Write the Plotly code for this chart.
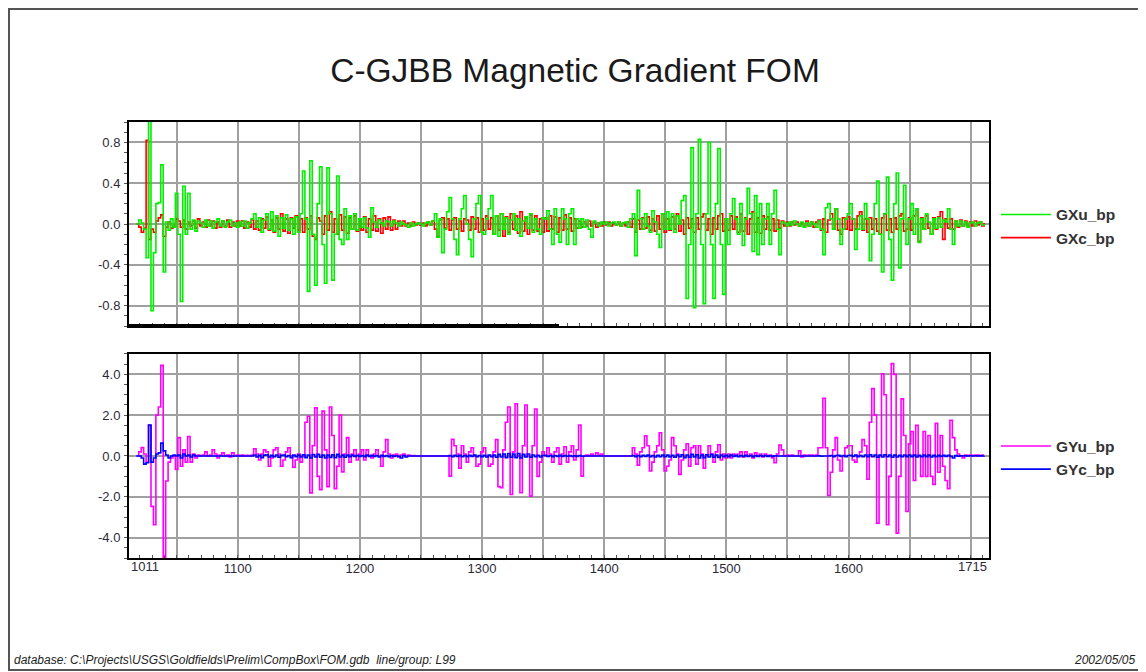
import plotly.graph_objects as go

# fiducials 1017..1711 step 2
fid = list(range(1017, 1712, 2))

# ---------------- top panel ----------------
gxu_bp = [
    0.00, 0.04, 0.01, -0.05, -0.33, 1.28, -0.85, -0.28, 0.20, 0.21, 0.58, -0.47, 0.02, -0.06, 0.05, -0.03, 0.30,
    -0.10, -0.76, 0.37, -0.10, 0.30, -0.05, 0.04, -0.07, 0.03, 0.01, -0.03, 0.04, -0.02, 0.03, -0.04, 0.02, 0.05, -0.02, 0.03, -0.03, 0.02, 0.04, -0.02, 0.01, -0.03,
    0.02, -0.02, 0.03, -0.04, 0.01, 0.05, 0.10, -0.03, 0.06, -0.08, 0.04, 0.10, -0.05, 0.12, -0.07, 0.08, -0.12, 0.06, -0.04, 0.09, -0.06, 0.05, -0.10, 0.07, -0.08,
    0.10, 0.52, 0.05, -0.66, 0.62, -0.10, -0.60, 0.20, 0.56, -0.20, -0.58, 0.55, 0.10, -0.55, -0.10, 0.47, -0.15, -0.20, 0.15, -0.15, 0.08, -0.05, 0.10, -0.06, 0.05,
    -0.03, 0.06, -0.04, -0.13, 0.16, 0.02, -0.03, 0.04, 0.01, -0.02, 0.03, 0.02, -0.02, 0.03, 0.01, -0.02, 0.02, 0.00, -0.01, -0.03, 0.01, -0.02, 0.00, 0.01, 0.00,
    -0.02, 0.01, 0.02, -0.01, 0.03, 0.10, -0.13, 0.05, -0.28, -0.05, 0.12, 0.26, 0.05, -0.15, -0.30, 0.05, 0.15, 0.28, 0.00, -0.15, -0.32, 0.05, 0.20, 0.28, -0.08,
    -0.10, 0.05, 0.15, 0.28, -0.10, 0.08, -0.12, 0.10, -0.05, 0.06, -0.10, 0.04, 0.10, -0.06, 0.05, -0.12, 0.03, 0.07, -0.04, 0.10, -0.08, 0.05, -0.05, -0.10, 0.06,
    0.05, 0.13, -0.05, -0.20, 0.15, -0.10, -0.18, 0.15, 0.05, -0.20, 0.10, 0.15, -0.20, 0.05, -0.04, 0.05, -0.03, 0.04, -0.05, -0.13, 0.03, 0.01, -0.02, 0.02, 0.00,
    0.02, -0.02, 0.01, 0.02, -0.01, 0.02, -0.02, 0.01, 0.02, -0.03, 0.05, 0.10, -0.31, 0.33, 0.05, -0.05, 0.10, -0.02, -0.08, 0.13, 0.02, -0.10, -0.23, 0.10, -0.05,
    0.12, -0.05, 0.10, -0.08, 0.08, 0.00, 0.23, 0.28, -0.73, -0.20, 0.75, -0.82, 0.10, 0.83, -0.20, -0.78, 0.10, 0.80, -0.20, -0.73, 0.20, 0.74, -0.20, -0.69, 0.05,
    -0.20, 0.10, 0.25, 0.05, -0.10, 0.20, -0.21, 0.05, 0.35, 0.10, -0.27, 0.28, -0.30, 0.20, -0.20, 0.05, 0.20, -0.20, 0.10, 0.33, -0.05, -0.30, 0.02, 0.01, -0.02,
    0.02, -0.01, 0.03, 0.00, -0.02, 0.02, -0.03, 0.01, -0.02, 0.02, 0.00, -0.03, 0.03, -0.05, -0.30, 0.16, 0.20, 0.05, -0.05, 0.15, 0.05, -0.20, -0.05, 0.05, 0.10,
    0.20, 0.05, -0.25, -0.05, 0.08, -0.05, 0.20, 0.05, -0.36, -0.10, 0.20, 0.42, -0.10, -0.47, 0.10, 0.46, -0.15, -0.55, 0.20, 0.50, -0.43, 0.05, 0.38, -0.20, 0.05,
    0.20, -0.10, 0.15, -0.18, 0.05, -0.05, 0.10, 0.02, -0.10, 0.05, -0.04, 0.06, -0.03, 0.04, 0.02, 0.15, -0.05, -0.20, 0.03, -0.02, 0.03, -0.02, 0.02, -0.03, 0.01,
    0.02, -0.02, 0.01, 0.02, -0.01, 0.00,
]

gxc_bp = [
    0.00, -0.03, -0.08, -0.04, 0.82, -0.15, -0.05, -0.08, 0.03, 0.06, 0.09, -0.12, -0.03, 0.02, -0.04, -0.02, 0.05,
    0.03, -0.03, 0.04, -0.05, 0.02, -0.02, 0.03, -0.04, 0.05, -0.02, 0.02, -0.03, 0.04, -0.02, 0.03, -0.04, 0.02, -0.03, 0.03, -0.02, 0.04, -0.03, 0.02, -0.02, 0.03,
    -0.02, 0.03, -0.04, 0.02, -0.03, 0.04, -0.05, 0.03, -0.06, 0.05, -0.04, 0.07, -0.06, 0.04, -0.08, 0.06, -0.05, 0.10, -0.07, 0.05, -0.09, 0.06, -0.04, 0.08, -0.06,
    0.05, -0.08, 0.06, -0.05, 0.08, -0.12, -0.15, 0.06, 0.03, -0.10, 0.08, -0.06, 0.12, -0.08, 0.05, -0.10, 0.09, -0.06, 0.07, -0.09, 0.06, -0.05, 0.08, -0.07, 0.05,
    -0.06, 0.07, -0.08, 0.05, -0.06, 0.08, -0.07, 0.05, -0.09, 0.06, -0.05, 0.07, -0.06, 0.04, -0.05, 0.03, -0.02, 0.03, -0.02, 0.01, -0.02, 0.02, -0.01, 0.01, -0.01,
    0.01, -0.02, 0.02, -0.01, 0.03, -0.05, -0.12, 0.04, 0.06, -0.04, 0.05, -0.06, 0.04, 0.06, -0.05, 0.03, -0.07, 0.05, 0.04, -0.06, 0.07, -0.05, 0.06, -0.08, 0.05,
    -0.06, 0.08, -0.05, 0.06, -0.10, 0.08, -0.06, 0.10, -0.12, 0.07, -0.08, 0.10, -0.05, 0.08, -0.09, 0.12, -0.07, 0.06, -0.10, 0.09, -0.06, 0.08, -0.07, 0.05, -0.08,
    0.06, -0.07, 0.08, -0.05, 0.07, -0.08, 0.06, -0.06, 0.09, -0.05, 0.06, -0.07, 0.05, -0.04, 0.03, -0.03, 0.02, -0.02, 0.03, -0.02, 0.02, -0.03, 0.01, -0.02, 0.02,
    -0.01, 0.02, -0.02, 0.01, -0.01, 0.02, -0.02, 0.01, -0.02, 0.02, -0.03, 0.05, -0.08, 0.04, -0.05, 0.06, -0.04, 0.07, -0.06, 0.05, -0.07, 0.08, -0.05, 0.10, -0.08,
    0.05, -0.06, 0.07, -0.05, 0.10, -0.07, 0.04, -0.10, 0.06, -0.04, 0.05, -0.08, 0.06, -0.05, 0.07, 0.10, -0.06, 0.05, -0.10, 0.06, -0.05, 0.08, 0.10, -0.07, 0.05,
    -0.06, 0.08, -0.05, 0.07, -0.08, 0.10, -0.07, 0.06, -0.10, 0.05, 0.12, -0.08, 0.06, -0.09, 0.08, -0.05, 0.07, -0.06, 0.05, -0.07, 0.04, -0.04, 0.03, -0.02, 0.02,
    -0.02, 0.02, -0.01, 0.02, -0.02, 0.01, -0.02, 0.03, -0.02, 0.02, -0.03, 0.02, 0.04, -0.06, 0.05, -0.08, 0.04, 0.10, -0.05, 0.15, -0.06, -0.10, 0.06, -0.05, 0.07,
    -0.06, 0.05, -0.05, 0.08, 0.12, -0.06, 0.05, -0.08, 0.06, -0.05, 0.05, -0.07, -0.10, 0.06, 0.10, -0.06, 0.05, -0.08, 0.06, -0.05, 0.08, 0.10, -0.07, -0.05, 0.06,
    -0.06, 0.08, 0.15, -0.17, 0.06, -0.05, 0.08, -0.04, -0.10, 0.06, -0.05, 0.07, 0.12, -0.15, 0.05, -0.04, 0.05, -0.05, 0.03, -0.03, 0.04, -0.02, 0.03, -0.02, 0.02,
    -0.02, 0.03, -0.01, 0.02, -0.02, 0.01,
]

# ---------------- bottom panel ----------------
gyu_bp = [
    0.0, 0.2, 0.41, 0.1, -0.3, 1.5, -2.47, -3.37, 2.0, 2.4, 4.44, -5.5, -1.23, -0.3, -0.1, 0.0, -0.66,
    0.9, -0.5, 0.3, -0.3, 0.95, -0.3, 0.1, -0.1, 0.05, 0.0, 0.05, 0.2, 0.0, 0.05, 0.3, 0.1, -0.1, 0.05, 0.15, 0.0, 0.05, -0.05, 0.15, 0.0, 0.05,
    0.0, 0.05, 0.0, 0.03, 0.0, 0.05, 0.35, 0.1, -0.2, 0.1, 0.3, 0.2, -0.5, -0.1, 0.3, 0.4, 0.1, -0.5, -0.2, 0.2, 0.4, 0.0, -0.55, -0.2, 0.1,
    -0.3, 0.0, 1.65, 1.95, -1.81, 0.5, 2.36, -1.0, -1.65, 2.2, 0.3, -1.5, 2.4, 1.0, -1.6, -0.5, 2.0, -0.78, 0.1, 0.9, -0.3, 0.1, 0.3, -0.2, 0.1,
    0.3, -0.2, 0.3, 0.0, -0.1, 0.1, 0.3, 0.0, -0.5, 0.2, 0.8, 0.1, -0.1, 0.05, 0.1, -0.05, 0.05, 0.1, 0.0, 0.05, 0.0, 0.02, 0.0, 0.0, 0.0,
    0.0, 0.0, 0.0, 0.0, 0.0, 0.0, 0.0, 0.0, 0.0, 0.0, 0.0, -0.99, 0.82, 0.5, 0.1, -0.6, 0.5, 0.1, -0.3, 0.2, 0.4, 0.0, -0.5, -0.4, 0.2,
    0.4, 0.0, -0.5, -0.4, 0.2, 0.8, -1.5, -1.56, 0.3, 1.65, 2.4, -1.89, 0.2, 2.56, 0.0, -1.8, 0.5, 2.5, 0.0, -1.97, 0.5, 2.3, -1.0, -0.3, 0.2,
    0.0, 0.4, 0.1, -0.3, 0.2, 0.4, -0.4, 0.1, 0.45, -0.3, 0.2, 0.5, -0.2, 0.3, 1.52, -0.99, 0.0, 0.05, 0.0, 0.1, 0.0, 0.15, 0.05, 0.1, 0.0,
    0.0, 0.0, 0.0, 0.0, 0.0, 0.0, 0.0, 0.0, 0.0, 0.0, 0.0, 0.4, 0.1, -0.45, 0.2, 0.4, 0.99, 0.5, -0.74, -0.3, 0.2, 0.5, 1.14, 0.3, -0.74,
    -0.5, -0.2, 0.9, 0.5, 0.1, -0.9, -0.2, 0.3, 0.6, -0.5, 0.4, 0.5, -0.4, 0.5, 0.1, -0.6, 0.0, 0.5, 0.1, -0.3, 0.2, 0.55, -0.2, 0.1, -0.1,
    0.1, -0.1, 0.1, 0.0, 0.1, 0.2, -0.05, 0.2, 0.0, 0.1, -0.1, 0.15, 0.0, 0.1, -0.05, 0.1, 0.0, 0.05, -0.1, -0.33, 0.1, 0.53, 0.3, 0.0, 0.05,
    0.0, 0.05, 0.0, 0.0, 0.25, -0.05, 0.05, 0.0, 0.05, 0.05, 0.0, 0.05, 0.4, 0.4, 2.83, 0.4, -1.94, -0.8, 0.3, 0.9, -0.2, -0.74, 0.0, 0.4, 0.5,
    0.5, -0.2, -0.3, 0.0, 0.2, 0.8, 0.5, -1.14, 1.65, 3.3, 2.0, -3.29, 0.0, 4.03, 3.0, -3.37, -1.0, 4.53, 4.0, -3.78, -1.0, 2.8, 1.0, -2.72, 0.6,
    1.2, -1.2, 1.5, 0.0, -1.0, 1.2, -1.0, 1.0, -1.0, -1.4, 1.6, -0.8, 1.0, -0.5, -1.2, -1.6, 1.75, 0.9, 0.3, 0.1, 0.0, -0.1, 0.05, 0.0, 0.05,
    0.0, 0.05, 0.05, 0.0, 0.05, 0.05,
]

gyc_bp = [
    0.0, 0.0, -0.1, -0.4, -0.33, 1.52, -0.3, -0.1, 0.1, 0.15, 0.63, 0.25, 0.05, -0.1, 0.0, 0.05, 0.0,
    0.05, -0.1, 0.1, 0.0, 0.05, -0.05, 0.05, 0.0, 0.0, 0.0, 0.0, 0.0, 0.0, 0.0, 0.0, 0.0, 0.0, 0.0, 0.0, 0.0, 0.0, 0.0, 0.0, 0.0, 0.0,
    0.0, 0.0, 0.0, 0.0, 0.0, 0.0, 0.05, -0.05, 0.03, -0.08, 0.04, 0.06, -0.05, 0.03, -0.04, 0.05, -0.06, 0.03, 0.05, -0.04, 0.02, -0.08, 0.05, -0.03, 0.04,
    -0.05, 0.06, -0.08, 0.05, -0.1, 0.07, -0.05, 0.08, -0.06, 0.04, -0.1, 0.05, -0.07, 0.06, -0.09, 0.08, -0.05, 0.04, -0.06, 0.05, -0.03, 0.04, -0.02, 0.03, -0.02,
    0.02, -0.03, 0.04, -0.02, 0.03, -0.02, 0.02, -0.05, 0.03, -0.02, 0.02, -0.03, 0.02, -0.02, 0.01, -0.02, -0.1, 0.02, -0.05, 0.0, 0.0, 0.0, 0.0, 0.0, 0.0,
    0.0, 0.0, 0.0, 0.0, 0.0, 0.0, 0.0, 0.0, 0.0, 0.0, 0.0, 0.02, -0.03, 0.03, -0.02, 0.03, -0.04, 0.02, -0.03, 0.03, -0.02, 0.04, -0.03, 0.02, -0.03,
    0.03, -0.05, 0.04, -0.03, 0.05, -0.06, 0.08, -0.05, 0.1, -0.08, 0.12, -0.06, 0.1, -0.08, 0.12, -0.1, 0.08, -0.05, 0.1, -0.06, 0.05, -0.04, 0.03, -0.05, 0.02,
    0.03, -0.02, 0.02, -0.03, 0.02, -0.02, 0.03, -0.02, 0.02, -0.01, 0.02, -0.02, 0.01, -0.02, 0.02, -0.01, 0.0, 0.0, 0.0, 0.0, 0.0, 0.0, 0.0, 0.0, 0.0,
    0.0, 0.0, 0.0, 0.0, 0.0, 0.0, 0.0, 0.0, 0.0, 0.0, 0.0, 0.02, -0.03, 0.02, -0.04, 0.03, -0.02, 0.04, -0.03, 0.02, -0.05, 0.03, -0.04, 0.05, -0.03,
    0.04, -0.05, 0.03, -0.06, 0.05, -0.04, 0.06, -0.08, 0.05, -0.06, 0.08, -0.05, 0.06, -0.1, 0.05, -0.08, 0.06, -0.05, 0.08, -0.06, 0.04, -0.07, 0.05, -0.04, 0.03,
    -0.03, 0.04, -0.02, 0.03, -0.03, 0.02, -0.02, 0.03, -0.02, 0.02, -0.03, 0.02, -0.02, 0.02, -0.01, 0.02, -0.02, 0.01, -0.02, 0.01, 0.0, 0.0, 0.0, 0.0, 0.0,
    0.0, 0.0, 0.0, 0.0, 0.0, 0.0, 0.0, 0.0, 0.0, 0.0, 0.0, 0.0, 0.01, -0.01, 0.0, 0.0, 0.0, 0.02, -0.03, 0.02, 0.03, -0.02, 0.02, -0.03, 0.02,
    0.03, -0.02, 0.04, -0.03, 0.02, -0.04, 0.05, -0.03, 0.06, -0.04, 0.05, -0.06, 0.04, -0.05, 0.06, -0.04, 0.05, -0.06, 0.04, -0.05, 0.03, -0.04, 0.05, -0.03, 0.04,
    -0.03, 0.04, -0.05, 0.03, -0.04, 0.05, -0.03, 0.04, -0.05, 0.03, -0.04, 0.03, -0.02, 0.03, -0.02, 0.03, -0.02, -0.1, 0.02, -0.01, 0.01, 0.0, 0.01, 0.0, 0.01,
    0.0, 0.01, 0.0, 0.01, 0.0, 0.01,
]

for name, arr in [("gxu", gxu_bp), ("gxc", gxc_bp), ("gyu", gyu_bp), ("gyc", gyc_bp)]:
    if len(arr) != len(fid):
        raise SystemExit(f"{name} has {len(arr)} values, expected {len(fid)}")

x_range = [1011, 1715]
x_grid = [1011, 1050, 1100, 1150, 1200, 1250, 1300, 1350, 1400, 1450, 1500, 1550, 1600, 1650, 1700, 1715]
x_labels = ["", "", "1100", "", "1200", "", "1300", "", "1400", "", "1500", "", "1600", "", "", ""]
edge_labels = [(1011, "1011", "left"), (1715, "1715", "right")]

top_ticks = [-0.8, -0.4, 0.0, 0.4, 0.8]
bot_ticks = [-4.0, -2.0, 0.0, 2.0, 4.0]

title_text = "C-GJBB Magnetic Gradient FOM"
footer_left = "database: C:\\Projects\\USGS\\Goldfields\\Prelim\\CompBox\\FOM.gdb  line/group: L99"
footer_right = "2002/05/05"

# The page body adds an 8px offset; the figure is sized/positioned to compensate.
W, H = 1138, 664
L, T, PW, PH = 121, 114, 860, 436

fig = go.Figure()
LW = 1.6
# corrected channels drawn underneath, uncorrected on top (legend order fixed by legendrank)
fig.add_trace(go.Scatter(x=fid, y=gxc_bp, name="GXc_bp", mode="lines", line=dict(color="#ff0000", width=LW, shape="hv"),
                         xaxis="x", yaxis="y", legend="legend", legendrank=2))
fig.add_trace(go.Scatter(x=fid, y=gxu_bp, name="GXu_bp", mode="lines", line=dict(color="#00f000", width=LW, shape="hv"),
                         xaxis="x", yaxis="y", legend="legend", legendrank=1))
fig.add_trace(go.Scatter(x=fid, y=gyu_bp, name="GYu_bp", mode="lines", line=dict(color="#ff00ff", width=LW, shape="hv"),
                         xaxis="x2", yaxis="y2", legend="legend2", legendrank=1))
fig.add_trace(go.Scatter(x=fid, y=gyc_bp, name="GYc_bp", mode="lines", line=dict(color="#0000ff", width=LW, shape="hv"),
                         xaxis="x2", yaxis="y2", legend="legend2", legendrank=2))

tickfont = dict(family="Liberation Sans, Arial, sans-serif", size=13, color="#2a2a3a")
common_x = dict(range=x_range, tickmode="array", tickvals=x_grid, ticktext=x_labels,
                showgrid=True, gridcolor="#a0a0a0", gridwidth=1.5,
                showline=True, linecolor="black", linewidth=2, mirror=True,
                ticks="", zeroline=False, tickfont=tickfont,
                minor=dict(dtick=10, tick0=1000, ticks="inside", ticklen=3, tickcolor="#555", showgrid=False))
common_y = dict(showgrid=True, gridcolor="#a0a0a0", gridwidth=1.5, zeroline=False,
                showline=True, linecolor="black", linewidth=2, mirror=True,
                ticks="", tickfont=tickfont, ticklabelstandoff=4)

legend_font = dict(family="Liberation Sans, Arial, sans-serif", size=15.5, color="#333", weight="bold")

fig.update_layout(
    width=W, height=H,
    paper_bgcolor="white", plot_bgcolor="white",
    margin=dict(l=L, r=W - L - PW, t=T, b=H - T - PH),
    title=dict(text=title_text, x=(575 - 8) / W, xanchor="center", y=1 - 62 / H, yanchor="middle",
               font=dict(family="Liberation Sans, Arial, sans-serif", size=33.5, color="#1a1a1a")),
    xaxis=dict(domain=[0, 1], anchor="y", showticklabels=False, **common_x),
    yaxis=dict(domain=[0.532, 1], anchor="x", range=[-1.0, 1.0], tickmode="array", tickvals=top_ticks,
               ticktext=["%.1f" % v for v in top_ticks],
               minor=dict(dtick=0.1, ticks="outside", ticklen=3, tickcolor="#555", showgrid=False), **common_y),
    xaxis2=dict(domain=[0, 1], anchor="y2", matches="x", ticklabelstandoff=-3, **common_x),
    yaxis2=dict(domain=[0, 0.468], anchor="x2", range=[-5.0, 5.0], tickmode="array", tickvals=bot_ticks,
                ticktext=["%.1f" % v for v in bot_ticks],
                minor=dict(dtick=0.5, ticks="outside", ticklen=3, tickcolor="#555", showgrid=False), **common_y),
    legend=dict(x=1.008, y=0.826, xanchor="left", yanchor="top", bgcolor="rgba(0,0,0,0)",
                font=legend_font, tracegroupgap=0, itemwidth=50, traceorder="normal"),
    legend2=dict(x=1.008, y=0.295, xanchor="left", yanchor="top", bgcolor="rgba(0,0,0,0)",
                 font=legend_font, tracegroupgap=0, itemwidth=50, traceorder="normal"),
    showlegend=True,
)

def px_to_paper_x(px):
    return (px - 8 - L) / PW

def px_to_paper_y(py):
    return (T + PH - (py - 8)) / PH

annotations = []
for xv, txt, anchor in edge_labels:
    annotations.append(dict(x=xv, xref="x2", y=0, yref="paper", yanchor="top", xanchor=anchor, yshift=1,
                            text=txt, showarrow=False, font=tickfont))
footer_font = dict(family="Liberation Sans Narrow, Arial Narrow, sans-serif", size=12, color="#222", style="italic")
annotations.append(dict(x=px_to_paper_x(12), xref="paper", y=px_to_paper_y(660), yref="paper",
                        xanchor="left", yanchor="middle", text=footer_left, showarrow=False, font=footer_font))
annotations.append(dict(x=px_to_paper_x(1137), xref="paper", y=px_to_paper_y(660), yref="paper",
                        xanchor="right", yanchor="middle", text=footer_right, showarrow=False, font=footer_font))
fig.update_layout(annotations=annotations)

fig.update_layout(shapes=[
    dict(type="rect", xref="paper", yref="paper",
         x0=px_to_paper_x(9), x1=px_to_paper_x(1141), y0=px_to_paper_y(670), y1=px_to_paper_y(9),
         line=dict(color="#555", width=2), fillcolor="rgba(0,0,0,0)", layer="below"),
    dict(type="line", xref="x", yref="y", x0=1011, x1=1363, y0=-1.0, y1=-1.0,
         line=dict(color="black", width=4)),
])

fig.write_html("out.html")
